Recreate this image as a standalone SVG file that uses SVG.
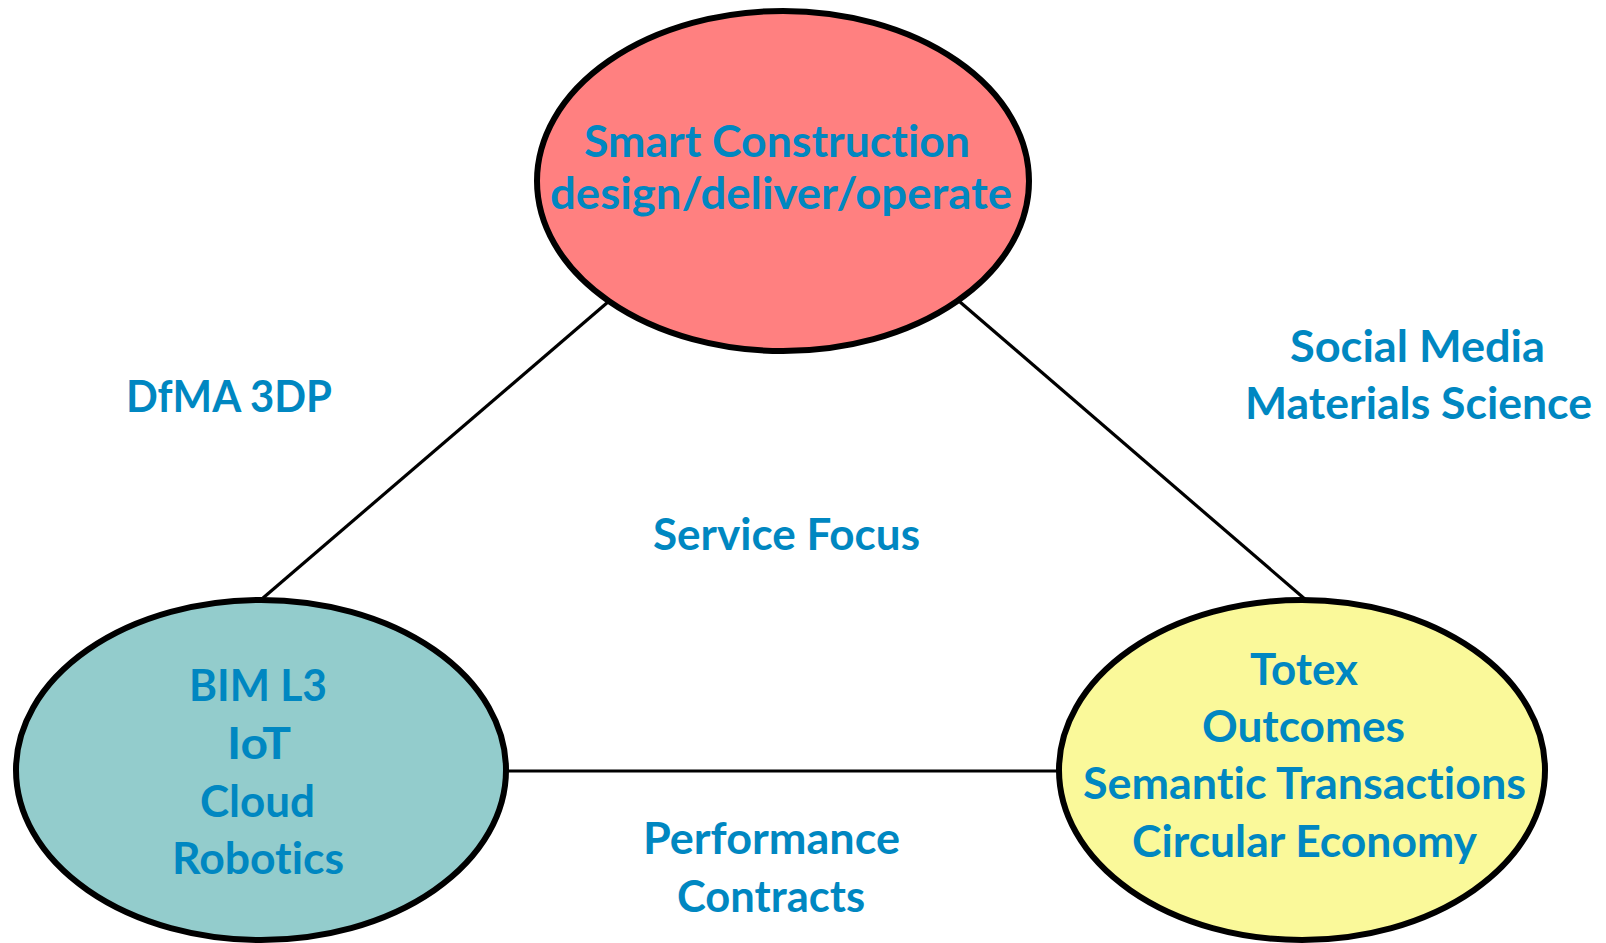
<svg xmlns="http://www.w3.org/2000/svg" width="1606" height="943" viewBox="0 0 1606 943">
<style>
.node{stroke:#000;stroke-width:6}
.edge{stroke:#000;stroke-width:3.2;fill:none}
.t{font-family:Lato,"Open Sans","Liberation Sans",sans-serif;font-weight:700;font-size:44px;fill:#0087C1;font-variant-ligatures:none;font-feature-settings:"liga" 0,"clig" 0}
</style>
<rect width="1606" height="943" fill="#fff"/>
<g id="connectors">
<line class="edge" x1="608" y1="302" x2="263" y2="598"/>
<line class="edge" x1="960" y1="302" x2="1306" y2="600"/>
<line class="edge" x1="505" y1="771" x2="1062" y2="771"/>
</g>
<g id="node-smart-construction">
<ellipse class="node" cx="783" cy="181" rx="246" ry="170" fill="#FF8080"/>
<text class="t" x="584" y="157" textLength="386" lengthAdjust="spacingAndGlyphs">Smart Construction</text>
<text class="t" x="550" y="209" textLength="462" lengthAdjust="spacingAndGlyphs">design/deliver/operate</text>
</g>
<g id="node-bim">
<ellipse class="node" cx="261" cy="770" rx="245" ry="170" fill="#93CCCC"/>
<text class="t" x="189" y="701" textLength="138" lengthAdjust="spacingAndGlyphs">BIM L3</text>
<text class="t" x="227" y="759" textLength="64" lengthAdjust="spacingAndGlyphs">IoT</text>
<text class="t" x="200" y="817" textLength="115" lengthAdjust="spacingAndGlyphs">Cloud</text>
<text class="t" x="172" y="874" textLength="172" lengthAdjust="spacingAndGlyphs">Robotics</text>
</g>
<g id="node-totex">
<ellipse class="node" cx="1302" cy="770" rx="243" ry="170" fill="#FAF99A"/>
<text class="t" x="1250" y="685" textLength="108" lengthAdjust="spacingAndGlyphs">Totex</text>
<text class="t" x="1202" y="742" textLength="203" lengthAdjust="spacingAndGlyphs">Outcomes</text>
<text class="t" x="1083" y="799" textLength="443" lengthAdjust="spacingAndGlyphs">Semantic Transactions</text>
<text class="t" x="1132" y="857" textLength="345" lengthAdjust="spacingAndGlyphs">Circular Economy</text>
</g>
<g id="labels">
<text class="t" x="126" y="412" textLength="206" lengthAdjust="spacingAndGlyphs">DfMA 3DP</text>
<text class="t" x="1290" y="362" textLength="255" lengthAdjust="spacingAndGlyphs">Social Media</text>
<text class="t" x="1245" y="419" textLength="347" lengthAdjust="spacingAndGlyphs">Materials Science</text>
<text class="t" x="653" y="550" textLength="267" lengthAdjust="spacingAndGlyphs">Service Focus</text>
<text class="t" x="643" y="854" textLength="257" lengthAdjust="spacingAndGlyphs">Performance</text>
<text class="t" x="677" y="912" textLength="188" lengthAdjust="spacingAndGlyphs">Contracts</text>
</g>
</svg>
